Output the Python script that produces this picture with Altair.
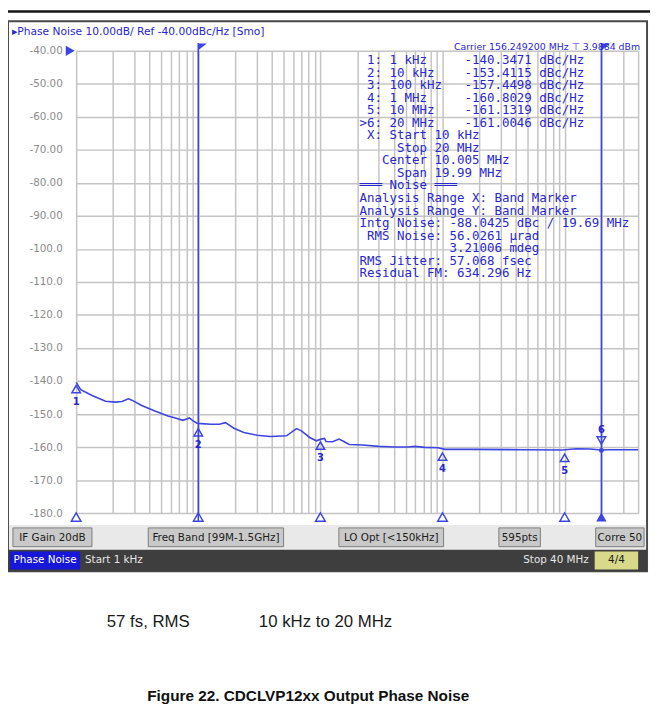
import altair as alt
import pandas as pd

# ---------------- data ----------------
freq_hz = [1000, 1090, 1350, 1740, 2090, 2370, 2680, 2860, 3440, 4410,
           5650, 6400, 7470, 8480, 9000, 9760, 10600, 12700, 14900, 16700,
           19600, 23600, 30300, 38900, 52800, 63700, 70000, 81700, 92600, 101000,
           108000, 111000, 126000, 142000, 157000, 172000, 221000, 301000, 409000, 525000,
           594000, 717000, 918000, 1050000, 1820000, 4600000, 9600000, 12500000, 16000000, 20000000,
           23300000, 40000000]
noise_dbc = [-140.4, -142.6, -144.4, -146.1, -146.4, -146.2, -145.4, -145.8, -147.4, -149.1,
             -150.6, -151.1, -151.9, -151.2, -152.0, -152.8, -152.9, -153.1, -153.1, -152.6,
             -154.3, -155.6, -156.4, -156.8, -156.6, -154.4, -155.1, -157.1, -158.1, -157.6,
             -157.4, -158.3, -158.4, -157.6, -158.4, -159.2, -159.4, -159.8, -160.0, -160.0,
             -159.8, -160.1, -160.2, -160.7, -160.7, -160.8, -160.9, -160.5, -160.6, -160.9,
             -160.8, -160.8]

marker_ids = ["1", "2", "3", "4", "5", "6"]
marker_freq = [1e3, 1e4, 1e5, 1e6, 1e7, 2e7]
marker_freq_text = ["1 kHz", "10 kHz", "100 kHz", "1 MHz", "10 MHz", "20 MHz"]
marker_dbc = [-140.3471, -153.4115, -157.4498, -160.8029, -161.1319, -161.0046]

band_freq = [1e4, 2e7]
bottom_icon_freq = [1e3, 1e4, 1e5, 1e6, 1e7]

y_ticks = list(range(-180, -39, 10))
x_grid = [m * 10 ** e for e in range(3, 8) for m in range(1, 10) if m * 10 ** e <= 4e7]

info_lines = [
    " X: Start 10 kHz",
    "     Stop 20 MHz",
    "   Center 10.005 MHz",
    "     Span 19.99 MHz",
    "═══ Noise ═══",
    "Analysis Range X: Band Marker",
    "Analysis Range Y: Band Marker",
    "Intg Noise: -88.0425 dBc / 19.69 MHz",
    " RMS Noise: 56.0261 µrad",
    "            3.21006 mdeg",
    "RMS Jitter: 57.068 fsec",
    "Residual FM: 634.296 Hz",
]

title_text = "▸Phase Noise 10.00dB/ Ref -40.00dBc/Hz [Smo]"
carrier_text = "Carrier 156.249200 MHz ⊤ 3.9884 dBm"
status_texts = ["IF Gain 20dB", "Freq Band [99M-1.5GHz]", "LO Opt [<150kHz]", "595pts", "Corre 50"]
caption_1 = "57 fs, RMS"
caption_2 = "10 kHz to 20 MHz"
figure_caption = "Figure 22. CDCLVP12xx Output Phase Noise"

# ---------------- layout ----------------
W, H = 569, 468           # plot area
OX, OY = 77, 47           # plot origin on page
PAD = {"left": OX - 8, "top": OY - 8, "right": 12, "bottom": 198}

BLUE = "#3d45e3"
BLUE_TXT = "#2828d2"
GRID = "#c4c4c4"
UI_FONT = "DejaVu Sans"
MONO = "DejaVu Sans Mono"

one = alt.Data(values=[{"k": 0}])


def X(x):
    return alt.value(x - OX)


def Y(y):
    return alt.value(y - OY)


def rect(x1, y1, x2, y2, **kw):
    return alt.Chart(one).mark_rect(**kw).encode(x=X(x1), x2=X(x2), y=Y(y1), y2=Y(y2))


def text(t, x, y, size, color, font=UI_FONT, align="left", weight="normal"):
    return alt.Chart(one).mark_text(
        text=t, align=align, baseline="middle", fontSize=size, color=color,
        font=font, fontWeight=weight
    ).encode(x=X(x), y=Y(y))


xs = alt.Scale(type="log", domain=[1000, 4e7], nice=False)
ys = alt.Scale(domain=[-180, -40], nice=False, zero=False)

x_axis = alt.Axis(values=x_grid, labels=False, ticks=False, domain=False, grid=True,
                  gridColor=GRID, gridWidth=1.5, title=None)
y_axis = alt.Axis(values=y_ticks, ticks=False, domain=False, grid=True,
                  gridColor=GRID, gridWidth=1.5, title=None, labelOverlap=False,
                  labelExpr="replace(datum.value > -100 ? format(datum.value, '.2f') : format(datum.value, '.1f'), '\u2212', '-')",
                  labelColor="#8c8c8c", labelFont=UI_FONT, labelFontSize=10.5,
                  labelPadding=14)


def fx():
    return alt.X("f:Q", scale=xs, axis=x_axis)


def fy():
    return alt.Y("db:Q", scale=ys, axis=y_axis)


trace_df = pd.DataFrame({"f": freq_hz, "db": noise_dbc})
mk_df = pd.DataFrame({"f": marker_freq, "db": marker_dbc, "id": marker_ids})
low_df = mk_df.iloc[:5]
six_df = mk_df.iloc[5:]
band_df = pd.DataFrame({"f": band_freq})
icon_df = pd.DataFrame({"f": bottom_icon_freq})
stop_df = pd.DataFrame({"f": band_freq[1:]})

layers = []

# trace (defines axes)
layers.append(alt.Chart(trace_df).mark_line(color=BLUE, strokeWidth=1.6).encode(
    x=fx(), y=fy()))

# frame / window chrome
layers.append(rect(0, 6, 660, 8.5, fill="#151515"))
layers.append(rect(8, 17, 655, 574, fill="transparent", stroke="#4a4a4a", strokeWidth=2))
layers.append(rect(9, 527, 654, 552, fill="#e9e9e9"))
box_x = [(13, 93), (150, 287), (343, 449), (505, 547), (603, 652)]
for (x1, x2), t in zip(box_x, status_texts):
    layers.append(rect(x1, 530, x2, 549, fill="#c9c9c9", stroke="#7c7c7c", strokeWidth=1))
    layers.append(text(t, (x1 + x2) / 2, 540, 10.5, "#1c1c1c", align="center"))
layers.append(rect(8, 552, 655, 574, fill="#3e3e3e"))
layers.append(rect(10, 554, 81, 572, fill="#1717d8"))
layers.append(text("Phase Noise", 45.5, 563, 10.5, "#ffffff", align="center"))
layers.append(text("Start 1 kHz", 86, 563, 10.5, "#e6e6e6"))
layers.append(text("Stop 40 MHz", 596, 563, 10.5, "#e6e6e6", align="right"))
layers.append(rect(602, 554, 646, 572, fill="#d9d98c"))
layers.append(text("4/4", 624, 563, 10.5, "#1c1c1c", align="center"))

# band marker lines, flags
layers.append(alt.Chart(band_df).mark_rule(color=BLUE, strokeWidth=1.6).encode(
    x=fx(), y=alt.value(-8), y2=alt.value(476)))
layers.append(alt.Chart(band_df).mark_point(
    shape="M0,-0.4L1,-0.4L0,0.4Z", filled=True, size=300, color=BLUE, opacity=1
).encode(x=fx(), y=alt.value(-4)))

# reference-level arrow
layers.append(alt.Chart(one).mark_point(shape="triangle-right", filled=True, size=110,
                                        color=BLUE, opacity=1).encode(
    x=alt.value(-6), y=alt.value(0)))

# bottom icons
layers.append(alt.Chart(icon_df).mark_point(shape="triangle-up", filled=False, size=95,
                                            color=BLUE, strokeWidth=1.5, opacity=1).encode(
    x=fx(), y=alt.value(472)))
layers.append(alt.Chart(stop_df).mark_point(shape="triangle-up", filled=True, size=110,
                                            color=BLUE, opacity=1).encode(
    x=fx(), y=alt.value(472)))

# markers on trace
layers.append(alt.Chart(low_df).mark_point(shape="triangle-up", filled=False, size=75,
                                           color=BLUE, strokeWidth=1.5, opacity=1, yOffset=7).encode(
    x=fx(), y=fy()))
layers.append(alt.Chart(low_df).mark_text(color=BLUE_TXT, fontSize=10, font=UI_FONT,
                                          fontWeight="bold", dy=20).encode(
    x=fx(), y=fy(), text="id:N"))
layers.append(alt.Chart(six_df).mark_point(shape="triangle-down", filled=False, size=75,
                                           color=BLUE, strokeWidth=1.5, opacity=1, yOffset=-10).encode(
    x=fx(), y=fy()))
layers.append(alt.Chart(six_df).mark_point(shape="circle", filled=True, size=25,
                                           color=BLUE, opacity=1).encode(
    x=fx(), y=fy()))
layers.append(alt.Chart(six_df).mark_text(color=BLUE_TXT, fontSize=10, font=UI_FONT,
                                          fontWeight="bold", dy=-21).encode(
    x=fx(), y=fy(), text="id:N"))

# text annotations (monospace block; zero-width lead keeps leading spaces)
NB = "\u00a0"
ZW = "\u200b"
rows = []
for mid, ft, v in zip(marker_ids, marker_freq_text, marker_dbc):
    lead = ">" if mid == "6" else " "
    head = f"{lead}{mid}: {ft}"
    rows.append(head + " " * (14 - len(head)) + f"{v:.4f} dBc/Hz")
rows += info_lines
block = "\n".join(ZW + r.replace(" ", NB) for r in rows)
layers.append(alt.Chart(one).mark_text(
    text=block, lineBreak="\n", lineHeight=12.7, align="left", baseline="alphabetic",
    font=MONO, fontSize=12.6, color=BLUE_TXT
).encode(x=X(364), y=Y(60.3)))

layers.append(text(title_text, 12, 28, 10.8, BLUE_TXT))
layers.append(text(carrier_text, 648, 43, 9.5, BLUE_TXT, align="right"))

# captions
layers.append(text(caption_1, 108, 625, 17, "#1a1a1a", font="Liberation Sans"))
layers.append(text(caption_2, 262, 625, 17, "#1a1a1a", font="Liberation Sans"))
layers.append(text(figure_caption, 149, 700, 15.5, "#111111", font="Liberation Sans", weight="bold"))

chart = alt.layer(*layers).properties(
    width=W, height=H, padding=PAD, autosize=alt.AutoSizeParams(type="none"),
    background="white",
).configure_view(stroke="transparent").configure_axis(labelOverlap=False)

chart.save("out.html", embed_options={"renderer": "svg", "actions": False})
